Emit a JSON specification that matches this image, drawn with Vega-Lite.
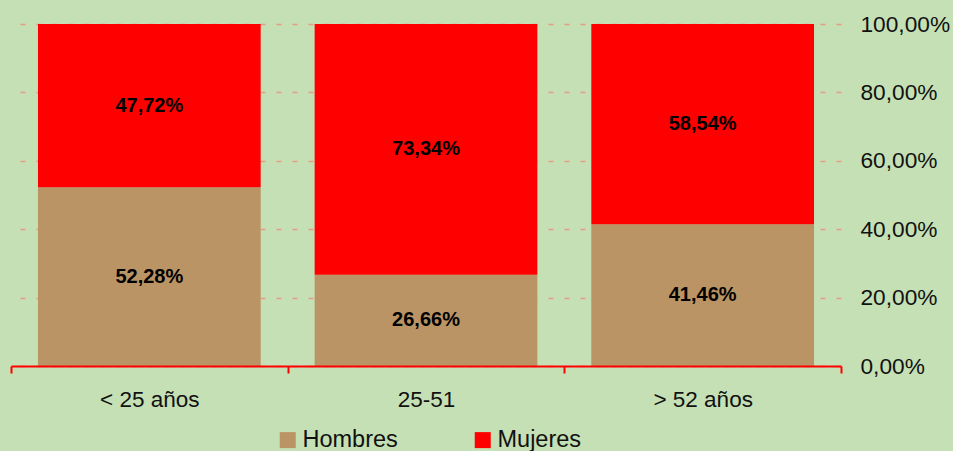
{
  "$schema": "https://vega.github.io/schema/vega-lite/v6.json",
  "width": 830,
  "height": 342,
  "autosize": {"type": "none"},
  "padding": {"left": 11, "top": 24, "right": 112, "bottom": 85},
  "background": "#C5E0B4",
  "config": {
    "view": {"stroke": null},
    "font": "Liberation Sans",
    "locale": {"number": {"decimal": ",", "thousands": ".", "grouping": [3], "currency": ["", " €"]}}
  },
  "data": {
    "values": [
      {"grupo": "< 25 años", "sexo": "Hombres", "valor": 0.5228},
      {"grupo": "< 25 años", "sexo": "Mujeres", "valor": 0.4772},
      {"grupo": "25-51", "sexo": "Hombres", "valor": 0.2666},
      {"grupo": "25-51", "sexo": "Mujeres", "valor": 0.7334},
      {"grupo": "> 52 años", "sexo": "Hombres", "valor": 0.4146},
      {"grupo": "> 52 años", "sexo": "Mujeres", "valor": 0.5854}
    ]
  },
  "encoding": {
    "x": {
      "field": "grupo",
      "type": "nominal",
      "sort": ["< 25 años", "25-51", "> 52 años"],
      "scale": {"paddingInner": 0, "paddingOuter": 0},
      "axis": {
        "title": null,
        "orient": "bottom",
        "zindex": 1,
        "domainColor": "#FF0000",
        "domainWidth": 2,
        "tickColor": "#FF0000",
        "tickWidth": 2,
        "tickSize": 7,
        "tickBand": "extent",
        "labelFontSize": 22.5,
        "labelPadding": 15,
        "labelColor": "#111111",
        "labelAngle": 0,
        "grid": false
      }
    },
    "order": {"field": "sexo", "type": "nominal", "sort": "ascending"}
  },
  "layer": [
    {
      "mark": {"type": "bar", "width": {"band": 0.805}},
      "encoding": {
        "y": {
          "field": "valor",
          "type": "quantitative",
          "stack": "normalize",
          "scale": {"domain": [0, 1]},
          "axis": {
            "title": null,
            "orient": "right",
            "values": [0, 0.2, 0.4, 0.6, 0.8, 1],
            "labelExpr": "format(datum.value, '.2%')",
            "domain": false,
            "ticks": false,
            "labelPadding": 19,
            "labelFontSize": 22.7,
            "labelColor": "#111111",
            "grid": true,
            "gridDash": [5, 11],
            "gridColor": "#E99A85",
            "gridWidth": 1.5
          }
        },
        "color": {
          "field": "sexo",
          "type": "nominal",
          "scale": {"domain": ["Hombres", "Mujeres"], "range": ["#BA9464", "#FF0000"]},
          "legend": {
            "orient": "none",
            "legendX": 265,
            "legendY": 404,
            "direction": "horizontal",
            "title": null,
            "symbolType": "square",
            "symbolSize": 256,
            "symbolStrokeWidth": 0,
            "symbolOpacity": 1,
            "labelFontSize": 23.5,
            "labelColor": "#111111",
            "labelOffset": 3,
            "columnPadding": 73
          }
        }
      }
    },
    {
      "mark": {"type": "text", "fontWeight": "bold", "fontSize": 20, "color": "#000000"},
      "encoding": {
        "y": {"field": "valor", "type": "quantitative", "stack": "normalize", "bandPosition": 0.5},
        "detail": {"field": "sexo", "type": "nominal"},
        "text": {"field": "valor", "type": "quantitative", "format": ".2%"}
      }
    }
  ]
}
